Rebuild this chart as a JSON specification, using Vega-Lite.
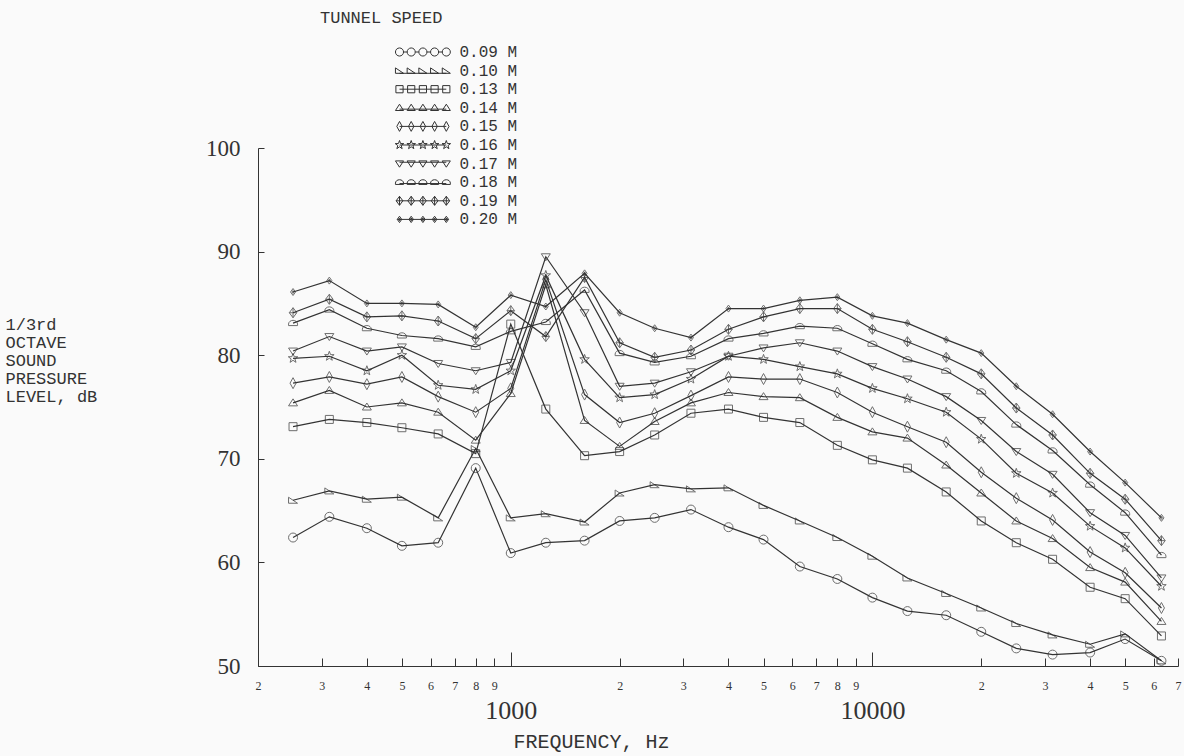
{
  "$schema": "https://vega.github.io/schema/vega-lite/v6.json",
  "width": 920,
  "height": 518,
  "autosize": "none",
  "padding": {"left": 258, "top": 148, "right": 6, "bottom": 90},
  "background": "#fafafa",
  "config": {"view": {"stroke": null}, "font": "Liberation Serif"},
  "datasets": {
    "spl": [
      {"speed":"0.09 M","f":250,"db":62.4},{"speed":"0.09 M","f":315,"db":64.4},{"speed":"0.09 M","f":400,"db":63.3},{"speed":"0.09 M","f":500,"db":61.6},{"speed":"0.09 M","f":630,"db":61.9},{"speed":"0.09 M","f":800,"db":69.1},{"speed":"0.09 M","f":1000,"db":60.9},{"speed":"0.09 M","f":1250,"db":61.9},{"speed":"0.09 M","f":1600,"db":62.1},{"speed":"0.09 M","f":2000,"db":64.0},{"speed":"0.09 M","f":2500,"db":64.3},{"speed":"0.09 M","f":3150,"db":65.1},{"speed":"0.09 M","f":4000,"db":63.4},{"speed":"0.09 M","f":5000,"db":62.2},{"speed":"0.09 M","f":6300,"db":59.6},{"speed":"0.09 M","f":8000,"db":58.4},{"speed":"0.09 M","f":10000,"db":56.6},{"speed":"0.09 M","f":12500,"db":55.3},{"speed":"0.09 M","f":16000,"db":54.9},{"speed":"0.09 M","f":20000,"db":53.3},{"speed":"0.09 M","f":25000,"db":51.7},{"speed":"0.09 M","f":31500,"db":51.1},{"speed":"0.09 M","f":40000,"db":51.3},{"speed":"0.09 M","f":50000,"db":52.6},{"speed":"0.09 M","f":63000,"db":50.5},
      {"speed":"0.10 M","f":250,"db":66.0},{"speed":"0.10 M","f":315,"db":66.9},{"speed":"0.10 M","f":400,"db":66.1},{"speed":"0.10 M","f":500,"db":66.3},{"speed":"0.10 M","f":630,"db":64.3},{"speed":"0.10 M","f":800,"db":71.0},{"speed":"0.10 M","f":1000,"db":64.3},{"speed":"0.10 M","f":1250,"db":64.7},{"speed":"0.10 M","f":1600,"db":63.9},{"speed":"0.10 M","f":2000,"db":66.7},{"speed":"0.10 M","f":2500,"db":67.5},{"speed":"0.10 M","f":3150,"db":67.1},{"speed":"0.10 M","f":4000,"db":67.2},{"speed":"0.10 M","f":5000,"db":65.5},{"speed":"0.10 M","f":6300,"db":64.0},{"speed":"0.10 M","f":8000,"db":62.4},{"speed":"0.10 M","f":10000,"db":60.6},{"speed":"0.10 M","f":12500,"db":58.5},{"speed":"0.10 M","f":16000,"db":57.0},{"speed":"0.10 M","f":20000,"db":55.6},{"speed":"0.10 M","f":25000,"db":54.1},{"speed":"0.10 M","f":31500,"db":53.0},{"speed":"0.10 M","f":40000,"db":52.1},{"speed":"0.10 M","f":50000,"db":53.1},{"speed":"0.10 M","f":63000,"db":50.5},
      {"speed":"0.13 M","f":250,"db":73.1},{"speed":"0.13 M","f":315,"db":73.8},{"speed":"0.13 M","f":400,"db":73.5},{"speed":"0.13 M","f":500,"db":73.0},{"speed":"0.13 M","f":630,"db":72.4},{"speed":"0.13 M","f":800,"db":70.5},{"speed":"0.13 M","f":1000,"db":83.0},{"speed":"0.13 M","f":1250,"db":74.8},{"speed":"0.13 M","f":1600,"db":70.3},{"speed":"0.13 M","f":2000,"db":70.7},{"speed":"0.13 M","f":2500,"db":72.3},{"speed":"0.13 M","f":3150,"db":74.4},{"speed":"0.13 M","f":4000,"db":74.8},{"speed":"0.13 M","f":5000,"db":74.0},{"speed":"0.13 M","f":6300,"db":73.5},{"speed":"0.13 M","f":8000,"db":71.3},{"speed":"0.13 M","f":10000,"db":69.9},{"speed":"0.13 M","f":12500,"db":69.1},{"speed":"0.13 M","f":16000,"db":66.8},{"speed":"0.13 M","f":20000,"db":64.0},{"speed":"0.13 M","f":25000,"db":61.9},{"speed":"0.13 M","f":31500,"db":60.3},{"speed":"0.13 M","f":40000,"db":57.6},{"speed":"0.13 M","f":50000,"db":56.5},{"speed":"0.13 M","f":63000,"db":52.9},
      {"speed":"0.14 M","f":250,"db":75.4},{"speed":"0.14 M","f":315,"db":76.6},{"speed":"0.14 M","f":400,"db":75.0},{"speed":"0.14 M","f":500,"db":75.4},{"speed":"0.14 M","f":630,"db":74.5},{"speed":"0.14 M","f":800,"db":71.8},{"speed":"0.14 M","f":1000,"db":76.3},{"speed":"0.14 M","f":1250,"db":86.8},{"speed":"0.14 M","f":1600,"db":73.7},{"speed":"0.14 M","f":2000,"db":71.2},{"speed":"0.14 M","f":2500,"db":73.6},{"speed":"0.14 M","f":3150,"db":75.4},{"speed":"0.14 M","f":4000,"db":76.4},{"speed":"0.14 M","f":5000,"db":76.0},{"speed":"0.14 M","f":6300,"db":75.9},{"speed":"0.14 M","f":8000,"db":74.0},{"speed":"0.14 M","f":10000,"db":72.6},{"speed":"0.14 M","f":12500,"db":72.0},{"speed":"0.14 M","f":16000,"db":69.4},{"speed":"0.14 M","f":20000,"db":66.7},{"speed":"0.14 M","f":25000,"db":64.0},{"speed":"0.14 M","f":31500,"db":62.3},{"speed":"0.14 M","f":40000,"db":59.5},{"speed":"0.14 M","f":50000,"db":58.1},{"speed":"0.14 M","f":63000,"db":54.3},
      {"speed":"0.15 M","f":250,"db":77.3},{"speed":"0.15 M","f":315,"db":77.9},{"speed":"0.15 M","f":400,"db":77.2},{"speed":"0.15 M","f":500,"db":77.9},{"speed":"0.15 M","f":630,"db":76.0},{"speed":"0.15 M","f":800,"db":74.5},{"speed":"0.15 M","f":1000,"db":76.8},{"speed":"0.15 M","f":1250,"db":87.3},{"speed":"0.15 M","f":1600,"db":76.2},{"speed":"0.15 M","f":2000,"db":73.5},{"speed":"0.15 M","f":2500,"db":74.4},{"speed":"0.15 M","f":3150,"db":76.1},{"speed":"0.15 M","f":4000,"db":77.9},{"speed":"0.15 M","f":5000,"db":77.7},{"speed":"0.15 M","f":6300,"db":77.7},{"speed":"0.15 M","f":8000,"db":76.4},{"speed":"0.15 M","f":10000,"db":74.5},{"speed":"0.15 M","f":12500,"db":73.1},{"speed":"0.15 M","f":16000,"db":71.6},{"speed":"0.15 M","f":20000,"db":68.7},{"speed":"0.15 M","f":25000,"db":66.2},{"speed":"0.15 M","f":31500,"db":64.1},{"speed":"0.15 M","f":40000,"db":61.0},{"speed":"0.15 M","f":50000,"db":59.0},{"speed":"0.15 M","f":63000,"db":55.6},
      {"speed":"0.16 M","f":250,"db":79.7},{"speed":"0.16 M","f":315,"db":79.9},{"speed":"0.16 M","f":400,"db":78.5},{"speed":"0.16 M","f":500,"db":80.0},{"speed":"0.16 M","f":630,"db":77.1},{"speed":"0.16 M","f":800,"db":76.7},{"speed":"0.16 M","f":1000,"db":78.5},{"speed":"0.16 M","f":1250,"db":87.7},{"speed":"0.16 M","f":1600,"db":79.6},{"speed":"0.16 M","f":2000,"db":75.9},{"speed":"0.16 M","f":2500,"db":76.2},{"speed":"0.16 M","f":3150,"db":77.7},{"speed":"0.16 M","f":4000,"db":79.9},{"speed":"0.16 M","f":5000,"db":79.6},{"speed":"0.16 M","f":6300,"db":78.9},{"speed":"0.16 M","f":8000,"db":78.2},{"speed":"0.16 M","f":10000,"db":76.8},{"speed":"0.16 M","f":12500,"db":75.8},{"speed":"0.16 M","f":16000,"db":74.5},{"speed":"0.16 M","f":20000,"db":71.9},{"speed":"0.16 M","f":25000,"db":68.6},{"speed":"0.16 M","f":31500,"db":66.7},{"speed":"0.16 M","f":40000,"db":63.5},{"speed":"0.16 M","f":50000,"db":61.4},{"speed":"0.16 M","f":63000,"db":57.7},
      {"speed":"0.17 M","f":250,"db":80.4},{"speed":"0.17 M","f":315,"db":81.8},{"speed":"0.17 M","f":400,"db":80.4},{"speed":"0.17 M","f":500,"db":80.8},{"speed":"0.17 M","f":630,"db":79.2},{"speed":"0.17 M","f":800,"db":78.5},{"speed":"0.17 M","f":1000,"db":79.3},{"speed":"0.17 M","f":1250,"db":89.5},{"speed":"0.17 M","f":1600,"db":84.1},{"speed":"0.17 M","f":2000,"db":77.0},{"speed":"0.17 M","f":2500,"db":77.3},{"speed":"0.17 M","f":3150,"db":78.4},{"speed":"0.17 M","f":4000,"db":79.9},{"speed":"0.17 M","f":5000,"db":80.7},{"speed":"0.17 M","f":6300,"db":81.2},{"speed":"0.17 M","f":8000,"db":80.4},{"speed":"0.17 M","f":10000,"db":78.9},{"speed":"0.17 M","f":12500,"db":77.7},{"speed":"0.17 M","f":16000,"db":76.0},{"speed":"0.17 M","f":20000,"db":73.7},{"speed":"0.17 M","f":25000,"db":70.7},{"speed":"0.17 M","f":31500,"db":68.5},{"speed":"0.17 M","f":40000,"db":64.8},{"speed":"0.17 M","f":50000,"db":62.6},{"speed":"0.17 M","f":63000,"db":58.5},
      {"speed":"0.18 M","f":250,"db":83.1},{"speed":"0.18 M","f":315,"db":84.4},{"speed":"0.18 M","f":400,"db":82.6},{"speed":"0.18 M","f":500,"db":81.9},{"speed":"0.18 M","f":630,"db":81.6},{"speed":"0.18 M","f":800,"db":80.8},{"speed":"0.18 M","f":1000,"db":82.3},{"speed":"0.18 M","f":1250,"db":83.2},{"speed":"0.18 M","f":1600,"db":86.3},{"speed":"0.18 M","f":2000,"db":80.2},{"speed":"0.18 M","f":2500,"db":79.3},{"speed":"0.18 M","f":3150,"db":79.9},{"speed":"0.18 M","f":4000,"db":81.6},{"speed":"0.18 M","f":5000,"db":82.1},{"speed":"0.18 M","f":6300,"db":82.8},{"speed":"0.18 M","f":8000,"db":82.6},{"speed":"0.18 M","f":10000,"db":81.1},{"speed":"0.18 M","f":12500,"db":79.6},{"speed":"0.18 M","f":16000,"db":78.5},{"speed":"0.18 M","f":20000,"db":76.5},{"speed":"0.18 M","f":25000,"db":73.3},{"speed":"0.18 M","f":31500,"db":70.8},{"speed":"0.18 M","f":40000,"db":67.5},{"speed":"0.18 M","f":50000,"db":64.8},{"speed":"0.18 M","f":63000,"db":60.7},
      {"speed":"0.19 M","f":250,"db":84.1},{"speed":"0.19 M","f":315,"db":85.4},{"speed":"0.19 M","f":400,"db":83.7},{"speed":"0.19 M","f":500,"db":83.8},{"speed":"0.19 M","f":630,"db":83.3},{"speed":"0.19 M","f":800,"db":81.6},{"speed":"0.19 M","f":1000,"db":84.3},{"speed":"0.19 M","f":1250,"db":81.8},{"speed":"0.19 M","f":1600,"db":87.5},{"speed":"0.19 M","f":2000,"db":81.2},{"speed":"0.19 M","f":2500,"db":79.8},{"speed":"0.19 M","f":3150,"db":80.5},{"speed":"0.19 M","f":4000,"db":82.5},{"speed":"0.19 M","f":5000,"db":83.7},{"speed":"0.19 M","f":6300,"db":84.5},{"speed":"0.19 M","f":8000,"db":84.5},{"speed":"0.19 M","f":10000,"db":82.5},{"speed":"0.19 M","f":12500,"db":81.3},{"speed":"0.19 M","f":16000,"db":79.8},{"speed":"0.19 M","f":20000,"db":78.2},{"speed":"0.19 M","f":25000,"db":74.9},{"speed":"0.19 M","f":31500,"db":72.3},{"speed":"0.19 M","f":40000,"db":68.6},{"speed":"0.19 M","f":50000,"db":66.1},{"speed":"0.19 M","f":63000,"db":62.1},
      {"speed":"0.20 M","f":250,"db":86.1},{"speed":"0.20 M","f":315,"db":87.2},{"speed":"0.20 M","f":400,"db":85.0},{"speed":"0.20 M","f":500,"db":85.0},{"speed":"0.20 M","f":630,"db":84.9},{"speed":"0.20 M","f":800,"db":82.7},{"speed":"0.20 M","f":1000,"db":85.8},{"speed":"0.20 M","f":1250,"db":84.7},{"speed":"0.20 M","f":1600,"db":87.9},{"speed":"0.20 M","f":2000,"db":84.1},{"speed":"0.20 M","f":2500,"db":82.6},{"speed":"0.20 M","f":3150,"db":81.7},{"speed":"0.20 M","f":4000,"db":84.5},{"speed":"0.20 M","f":5000,"db":84.5},{"speed":"0.20 M","f":6300,"db":85.3},{"speed":"0.20 M","f":8000,"db":85.6},{"speed":"0.20 M","f":10000,"db":83.8},{"speed":"0.20 M","f":12500,"db":83.1},{"speed":"0.20 M","f":16000,"db":81.5},{"speed":"0.20 M","f":20000,"db":80.2},{"speed":"0.20 M","f":25000,"db":77.0},{"speed":"0.20 M","f":31500,"db":74.3},{"speed":"0.20 M","f":40000,"db":70.7},{"speed":"0.20 M","f":50000,"db":67.7},{"speed":"0.20 M","f":63000,"db":64.3}
    ]
  },
  "data": {"name": "spl"},
  "encoding": {
    "x": {
      "field": "f", "type": "quantitative",
      "scale": {"type": "log", "domain": [200, 70000], "nice": false},
      "axis": {
        "values": [200,300,400,500,600,700,800,900,1000,2000,3000,4000,5000,6000,7000,8000,9000,10000,20000,30000,40000,50000,60000,70000],
        "labelExpr": "datum.value == 1000 ? '1000' : datum.value == 10000 ? '10000' : substring(toString(datum.value), 0, 1)",
        "labelOverlap": false,
        "labelBound": false,
        "labelFlush": false,
        "labelFont": "Liberation Serif",
        "labelFontSize": {"condition": {"test": "datum.value == 1000 || datum.value == 10000", "value": 26}, "value": 12},
        "labelPadding": {"condition": {"test": "datum.value == 1000 || datum.value == 10000", "value": 45}, "value": 22},
        "labelBaseline": "top",
        "labelColor": "#333",
        "tickSize": {"condition": {"test": "datum.value == 1000 || datum.value == 10000", "value": -14}, "value": -8},
        "tickColor": "#333",
        "domainColor": "#333",
        "grid": false,
        "title": "FREQUENCY, Hz",
        "titleFont": "Liberation Mono",
        "titleFontSize": 20,
        "titleFontWeight": "normal",
        "titleColor": "#333",
        "titleAnchor": "start",
        "titleAlign": "center",
        "titleBaseline": "middle",
        "titleX": 333,
        "titleY": 75
      }
    },
    "y": {
      "field": "db", "type": "quantitative",
      "scale": {"domain": [50, 100], "nice": false, "zero": false},
      "axis": {
        "values": [50, 60, 70, 80, 90, 100],
        "labelFont": "Liberation Serif",
        "labelFontSize": 23,
        "labelColor": "#333",
        "labelPadding": 24,
        "tickSize": -6,
        "tickColor": "#333",
        "domainColor": "#333",
        "grid": false,
        "title": ["1/3rd", "OCTAVE", "SOUND", "PRESSURE", "LEVEL, dB"],
        "titleFont": "Liberation Mono",
        "titleFontSize": 17,
        "titleFontWeight": "normal",
        "titleColor": "#333",
        "titleAngle": 0,
        "titleAlign": "left",
        "titleBaseline": "top",
        "titleLineHeight": 18,
        "titleX": -253,
        "titleY": 168
      }
    }
  },
  "layer": [
    {
      "mark": {"type": "line", "stroke": "#333", "strokeWidth": 1.2},
      "encoding": {"detail": {"field": "speed"}}
    },
    {
      "mark": {"type": "point", "filled": false, "stroke": "#333", "strokeWidth": 1, "size": 100},
      "encoding": {
        "shape": {
          "field": "speed", "type": "nominal",
          "scale": {
            "domain": ["0.09 M","0.10 M","0.13 M","0.14 M","0.15 M","0.16 M","0.17 M","0.18 M","0.19 M","0.20 M"],
            "range": [
              "M-0.9,0 A0.9,0.9 0 1,0 0.9,0 A0.9,0.9 0 1,0 -0.9,0 Z",
              "M-0.9,-0.6 L-0.9,0.6 L0.9,0.6 Z",
              "M-0.8,-0.8 L0.8,-0.8 L0.8,0.8 L-0.8,0.8 Z",
              "M-0.9,0.6 L0,-0.8 L0.9,0.6 Z",
              "M0,-1.1 L0.6,0 L0,1.1 L-0.6,0 Z",
              "M0,-1 L0.235,-0.324 L0.951,-0.309 L0.38,0.124 L0.588,0.809 L0,0.4 L-0.588,0.809 L-0.38,0.124 L-0.951,-0.309 L-0.235,-0.324 Z",
              "M-0.9,-0.6 L0.9,-0.6 L0,0.8 Z",
              "M-0.9,0.5 L0.9,0.5 L0.9,0.2 A0.9,0.75 0 0,0 -0.9,0.2 Z",
              "M0,-1 L0.75,0 L0,1 L-0.75,0 Z M-0.75,0 L0.75,0 M0,-1 L0,1",
              "M0,-0.7 L0.5,0 L0,0.7 L-0.5,0 Z M0,-0.3 L0.2,0 L0,0.3 L-0.2,0 Z"
            ]
          },
          "legend": null
        }
      }
    },
    {
      "mark": {"type": "point", "filled": false, "stroke": "#333", "strokeWidth": 1, "size": 100, "opacity": 0},
      "encoding": {
        "shape": {
          "field": "speed", "type": "nominal",
          "scale": {
            "domain": ["0.09 M","0.10 M","0.13 M","0.14 M","0.15 M","0.16 M","0.17 M","0.18 M","0.19 M","0.20 M"],
            "range": [
              "M0.9,0 L1.7,0 M3.5,0 L4.3,0 M6.1,0 L6.9,0 M8.7,0 L9.5,0 M-0.9,0 A0.9,0.9 0 1,0 0.9,0 A0.9,0.9 0 1,0 -0.9,0 M1.7,0 A0.9,0.9 0 1,0 3.5,0 A0.9,0.9 0 1,0 1.7,0 M4.3,0 A0.9,0.9 0 1,0 6.1,0 A0.9,0.9 0 1,0 4.3,0 M6.9,0 A0.9,0.9 0 1,0 8.7,0 A0.9,0.9 0 1,0 6.9,0 M9.5,0 A0.9,0.9 0 1,0 11.3,0 A0.9,0.9 0 1,0 9.5,0",
              "M0,0.6 L10.4,0.6 M-0.9,-0.6 L-0.9,0.6 L0.9,0.6 Z M1.7,-0.6 L1.7,0.6 L3.5,0.6 Z M4.3,-0.6 L4.3,0.6 L6.1,0.6 Z M6.9,-0.6 L6.9,0.6 L8.7,0.6 Z M9.5,-0.6 L9.5,0.6 L11.3,0.6 Z",
              "M0,0 L10.4,0 M-0.8,-0.8 L0.8,-0.8 L0.8,0.8 L-0.8,0.8 Z M1.8,-0.8 L3.4,-0.8 L3.4,0.8 L1.8,0.8 Z M4.4,-0.8 L6,-0.8 L6,0.8 L4.4,0.8 Z M7,-0.8 L8.6,-0.8 L8.6,0.8 L7,0.8 Z M9.6,-0.8 L11.2,-0.8 L11.2,0.8 L9.6,0.8 Z",
              "M0,0.3 L10.4,0.3 M-0.9,0.6 L0,-0.8 L0.9,0.6 Z M1.7,0.6 L2.6,-0.8 L3.5,0.6 Z M4.3,0.6 L5.2,-0.8 L6.1,0.6 Z M6.9,0.6 L7.8,-0.8 L8.7,0.6 Z M9.5,0.6 L10.4,-0.8 L11.3,0.6 Z",
              "M0,0 L10.4,0 M0,-1.1 L0.6,0 L0,1.1 L-0.6,0 Z M2.6,-1.1 L3.2,0 L2.6,1.1 L2,0 Z M5.2,-1.1 L5.8,0 L5.2,1.1 L4.6,0 Z M7.8,-1.1 L8.4,0 L7.8,1.1 L7.2,0 Z M10.4,-1.1 L11,0 L10.4,1.1 L9.8,0 Z",
              "M0,0 L10.4,0 M0,-1 L0.235,-0.324 L0.951,-0.309 L0.38,0.124 L0.588,0.809 L0,0.4 L-0.588,0.809 L-0.38,0.124 L-0.951,-0.309 L-0.235,-0.324 Z M2.6,-1 L2.835,-0.324 L3.551,-0.309 L2.98,0.124 L3.188,0.809 L2.6,0.4 L2.012,0.809 L2.22,0.124 L1.649,-0.309 L2.365,-0.324 Z M5.2,-1 L5.435,-0.324 L6.151,-0.309 L5.58,0.124 L5.788,0.809 L5.2,0.4 L4.612,0.809 L4.82,0.124 L4.249,-0.309 L4.965,-0.324 Z M7.8,-1 L8.035,-0.324 L8.751,-0.309 L8.18,0.124 L8.388,0.809 L7.8,0.4 L7.212,0.809 L7.42,0.124 L6.849,-0.309 L7.565,-0.324 Z M10.4,-1 L10.635,-0.324 L11.351,-0.309 L10.78,0.124 L10.988,0.809 L10.4,0.4 L9.812,0.809 L10.02,0.124 L9.449,-0.309 L10.165,-0.324 Z",
              "M0,-0.3 L10.4,-0.3 M-0.9,-0.6 L0.9,-0.6 L0,0.8 Z M1.7,-0.6 L3.5,-0.6 L2.6,0.8 Z M4.3,-0.6 L6.1,-0.6 L5.2,0.8 Z M6.9,-0.6 L8.7,-0.6 L7.8,0.8 Z M9.5,-0.6 L11.3,-0.6 L10.4,0.8 Z",
              "M0,0.3 L10.4,0.3 M-0.9,0.5 L0.9,0.5 L0.9,0.2 A0.9,0.75 0 0,0 -0.9,0.2 Z M1.7,0.5 L3.5,0.5 L3.5,0.2 A0.9,0.75 0 0,0 1.7,0.2 Z M4.3,0.5 L6.1,0.5 L6.1,0.2 A0.9,0.75 0 0,0 4.3,0.2 Z M6.9,0.5 L8.7,0.5 L8.7,0.2 A0.9,0.75 0 0,0 6.9,0.2 Z M9.5,0.5 L11.3,0.5 L11.3,0.2 A0.9,0.75 0 0,0 9.5,0.2 Z",
              "M-0.75,0 L11.15,0 M0,-1 L0.75,0 L0,1 L-0.75,0 Z M0,-1 L0,1 M2.6,-1 L3.35,0 L2.6,1 L1.85,0 Z M2.6,-1 L2.6,1 M5.2,-1 L5.95,0 L5.2,1 L4.45,0 Z M5.2,-1 L5.2,1 M7.8,-1 L8.55,0 L7.8,1 L7.05,0 Z M7.8,-1 L7.8,1 M10.4,-1 L11.15,0 L10.4,1 L9.65,0 Z M10.4,-1 L10.4,1",
              "M-0.5,0 L10.9,0 M0,-0.7 L0.5,0 L0,0.7 L-0.5,0 Z M0,-0.3 L0.2,0 L0,0.3 L-0.2,0 Z M2.6,-0.7 L3.1,0 L2.6,0.7 L2.1,0 Z M2.6,-0.3 L2.8,0 L2.6,0.3 L2.4,0 Z M5.2,-0.7 L5.7,0 L5.2,0.7 L4.7,0 Z M5.2,-0.3 L5.4,0 L5.2,0.3 L5,0 Z M7.8,-0.7 L8.3,0 L7.8,0.7 L7.3,0 Z M7.8,-0.3 L8,0 L7.8,0.3 L7.6,0 Z M10.4,-0.7 L10.9,0 L10.4,0.7 L9.9,0 Z M10.4,-0.3 L10.6,0 L10.4,0.3 L10.2,0 Z"
            ]
          },
          "legend": {
            "orient": "none",
            "legendX": 62,
            "legendY": -138,
            "padding": 0,
            "title": "TUNNEL SPEED",
            "titleFont": "Liberation Mono",
            "titleFontSize": 17,
            "titleFontWeight": "normal",
            "titleColor": "#333",
            "titlePadding": 17,
            "symbolSize": 81,
            "symbolOffset": 71.5,
            "symbolStrokeWidth": 1,
            "symbolStrokeColor": "#333",
            "symbolFillColor": "transparent",
            "symbolOpacity": 1,
            "labelFont": "Liberation Mono",
            "labelFontSize": 16,
            "labelColor": "#333",
            "labelOffset": 52,
            "rowPadding": 2.6,
            "encode": {"symbols": {"update": {"opacity": {"value": 1}, "stroke": {"value": "#333"}, "fill": {"value": "transparent"}}}}
          }
        }
      }
    }
  ],
  "resolve": {"scale": {"shape": "independent"}, "legend": {"shape": "independent"}}
}
